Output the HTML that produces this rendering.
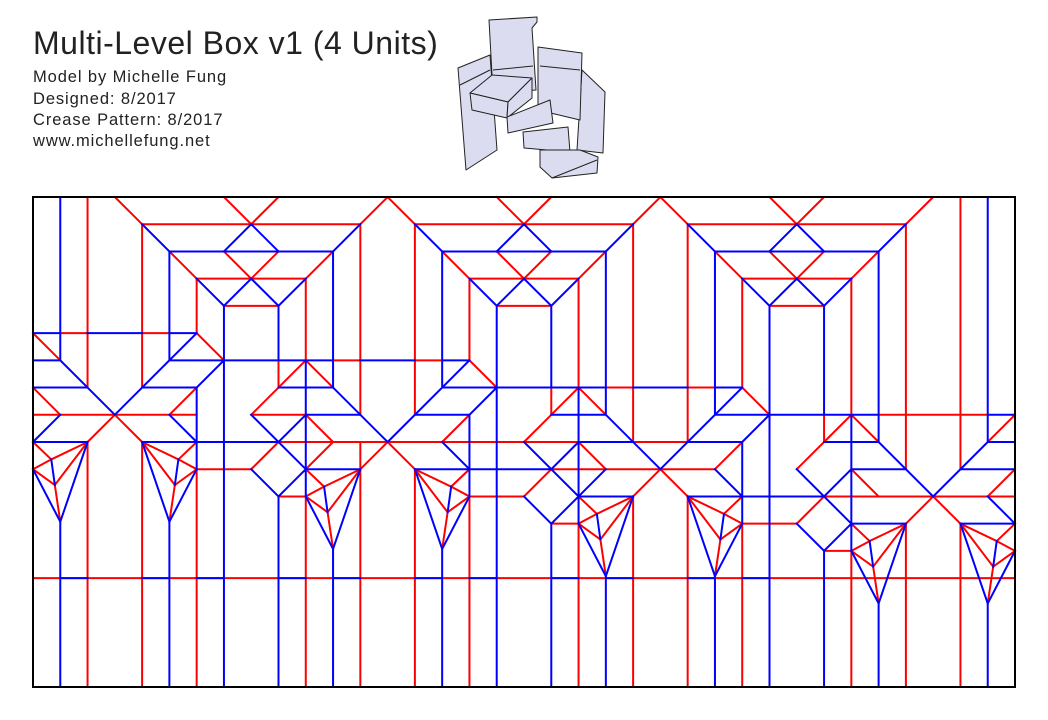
<!DOCTYPE html>
<html><head><meta charset="utf-8"><style>
html,body{margin:0;padding:0;background:#fff;}
body{width:1048px;height:720px;position:relative;overflow:hidden;font-family:"Liberation Sans",sans-serif;color:#222;}
.t{position:absolute;left:33px;white-space:nowrap;}
.s{font-size:16.5px;letter-spacing:0.9px;}
</style></head><body>
<div class="t" style="top:25px;font-size:32px;letter-spacing:0.5px;">Multi-Level Box v1 (4 Units)</div>
<div class="t s" style="top:68px;">Model by Michelle Fung</div>
<div class="t s" style="top:90px;">Designed: 8/2017</div>
<div class="t s" style="top:111px;">Crease Pattern: 8/2017</div>
<div class="t s" style="top:132px;">www.michellefung.net</div>
<svg width="1048" height="720" style="position:absolute;left:0;top:0" xmlns="http://www.w3.org/2000/svg">
<g fill="#dcdcf0" stroke="#222" stroke-width="1" stroke-linejoin="round">
<polygon points="458,68 490,55 497,150 466,170"/>
<polygon points="582,70 605,92 603,153 577,150"/>
<polygon points="538,47 582,53 580,120 538,110"/>
<polygon points="489,20 537,17 537,22 532,28 536,90 493,93"/>
<polygon points="470,93 492,75 532,78 508,102"/>
<polygon points="470,93 508,102 507,118 472,110"/>
<polygon points="508,102 532,78 532,98 507,118"/>
<polygon points="507,117 550,100 553,123 508,133"/>
<polygon points="523,132 568,127 570,152 524,148"/>
<polygon points="540,150 580,150 598,157 597,173 552,178 540,167"/>
<path d="M460,85 L490,70 M493,70 L533,66 M540,66 L580,70 M552,178 L597,160" fill="none"/>
</g>
<g transform="translate(33,197) scale(27.278,27.222)" fill="none" stroke-linecap="square">
<path stroke="#ff0000" stroke-width="2" vector-effect="non-scaling-stroke" d="
M3 0L4 1 M7 0L8 1L9 0 M12 1L13 0L14 1 M17 0L18 1L19 0 M22 1L23 0L24 1 M27 0L28 1L29 0 M32 1L33 0
M4 1H12 M14 1H22 M24 1H32
M4 1V7 M12 1V8 M14 1V8 M22 1V9 M24 1V9 M32 1V10
M5 2L6 3 M11 2L10 3 M7 2L8 3L9 2 M15 2L16 3 M21 2L20 3 M17 2L18 3L19 2 M25 2L26 3 M31 2L30 3 M27 2L28 3L29 2
M6 3H10 M16 3H20 M26 3H30
M6 3V5 M10 3V6 M16 3V6 M20 3V7 M26 3V7 M30 3V8
M7 4H9 M17 4H19 M27 4H29
M9 6V7 M19 7V8 M29 8V9
M6 5L7 6 M16 6L17 7 M26 7L27 8
M10 6L9 7L8 8 M10 6L11 7 M20 7L19 8L18 9 M20 7L21 8 M30 8L29 9L28 10 M30 8L31 9
M6 7L5 8 M16 8L15 9 M26 9L25 10
M3 8L4 9 M3 8L2 9 M13 9L14 10 M13 9L12 10 M23 10L24 11 M23 10L22 11 M33 11L32 12 M33 11L34 12
M10 8L11 9 M20 9L21 10 M30 10L31 11 M10 10L11 9
M8 10L9 9 M18 11L19 10 M28 12L29 11
M0 5L1 6 M0 7L1 8 M35 9L36 8 M35 11L36 10
M2 0V7 M2 9V18 M34 0V10 M34 12V18
M4 9V18 M6 10V18 M10 11V18 M12 9V18 M14 10V18 M16 11V18 M20 12V18 M22 11V18 M24 11V18 M26 12V18 M30 13V18 M32 12V18
M1 5H2 M4 5H5 M14 6H15 M24 7H25
M11 6H12 M21 7H22 M31 8H35
M0 8H6 M8 8H10
M9 9H20 M22 9H24
M6 10H8 M19 10H25
M9 11H10 M16 11H18 M29 11H36
M19 12H20 M26 12H28 M29 13H30
M0 14H36
M0 9L.67 9.64 M0 10L.67 9.64L2 9 M0 10L.8 10.58L2 9 M.8 10.58L1 11.93
M6 9L5.33 9.64L4 9 M6 10L5.33 9.64 M6 10L5.2 10.58L4 9 M5.2 10.58L5 11.93
M10 10L10.67 10.64L12 10 M10 11L10.67 10.64 M10 11L10.8 11.58L12 10 M10.8 11.58L11 12.93
M16 10L15.33 10.64L14 10 M16 11L15.33 10.64 M16 11L15.2 11.58L14 10 M15.2 11.58L15 12.93
M20 11L20.67 11.64L22 11 M20 12L20.67 11.64 M20 12L20.8 12.58L22 11 M20.8 12.58L21 13.93
M26 11L25.33 11.64L24 11 M26 12L25.33 11.64 M26 12L25.2 12.58L24 11 M25.2 12.58L25 13.93
M30 12L30.67 12.64L32 12 M30 13L30.67 12.64 M30 13L30.8 13.58L32 12 M30.8 13.58L31 14.93
M36 12L35.33 12.64L34 12 M36 13L35.33 12.64 M36 13L35.2 13.58L34 12 M35.2 13.58L35 14.93
"/>
<path stroke="#0000ff" stroke-width="2" vector-effect="non-scaling-stroke" d="
M1 0V6 M35 0V9
M4 1L5 2 M12 1L11 2 M8 1L7 2 M8 1L9 2 M14 1L15 2 M22 1L21 2 M18 1L17 2 M18 1L19 2 M24 1L25 2 M32 1L31 2 M28 1L27 2 M28 1L29 2
M5 2H11 M15 2H21 M25 2H31
M5 2V6 M11 2V7 M15 2V7 M21 2V8 M25 2V8 M31 2V9
M6 3L7 4L8 3L9 4L10 3 M16 3L17 4L18 3L19 4L20 3 M26 3L27 4L28 3L29 4L30 3
M7 4V18 M17 4V18 M27 4V18
M9 4V6 M19 4V7 M29 4V8
M9 11V18 M19 12V18 M29 13V18
M10 6V11 M20 7V12 M30 8V13
M6 7V10 M16 8V11 M26 9V12
M6 5L5 6 M16 6L15 7 M26 7L25 8
M7 6L6 7 M17 7L16 8 M27 8L26 9
M5 8L6 9 M15 9L16 10 M25 10L26 11
M1 6L3 8 M5 6L3 8 M11 7L13 9 M15 7L13 9 M21 8L23 10 M25 8L23 10
M8 8L9 9L10 8 M18 9L19 10L20 9 M28 10L29 11L30 10
M9 9L10 10 M19 10L20 11 M29 11L30 12
M8 10L9 11L10 10 M18 11L19 12L20 11 M28 12L29 13L30 12
M21 10L20 11 M1 8L0 9
M31 9L33 11L35 9 M35 11L36 12
M0 5H1 M2 5H4 M5 5H6
M0 6H1 M5 6H11 M12 6H14 M15 6H16
M0 7H2 M4 7H6 M9 7H11 M15 7H21 M22 7H24 M25 7H26
M10 8H12 M14 8H16 M19 8H21 M25 8H31 M35 8H36
M0 9H2 M4 9H9 M20 9H22 M24 9H26 M29 9H31 M35 9H36
M10 10H12 M14 10H19 M30 10H32 M34 10H36
M20 11H22 M24 11H29
M30 12H32 M34 12H36
M1 14H2 M4 14H5 M6 14H7 M9 14H10 M11 14H12 M14 14H15 M16 14H17 M19 14H20 M21 14H22 M24 14H25 M26 14H27
M1 11.93V18 M5 11.93V18 M11 12.93V18 M15 12.93V18 M21 13.93V18 M25 13.93V18 M31 14.93V18 M35 14.93V18
M.67 9.64L.8 10.58 M0 10L1 11.93L2 9
M5.33 9.64L5.2 10.58 M6 10L5 11.93L4 9
M10.67 10.64L10.8 11.58 M10 11L11 12.93L12 10
M15.33 10.64L15.2 11.58 M16 11L15 12.93L14 10
M20.67 11.64L20.8 12.58 M20 12L21 13.93L22 11
M25.33 11.64L25.2 12.58 M26 12L25 13.93L24 11
M30.67 12.64L30.8 13.58 M30 13L31 14.93L32 12
M35.33 12.64L35.2 13.58 M36 13L35 14.93L34 12
"/>
</g>
<rect x="33" y="197" width="982" height="490" fill="none" stroke="#000" stroke-width="2"/>
</svg>
</body></html>
